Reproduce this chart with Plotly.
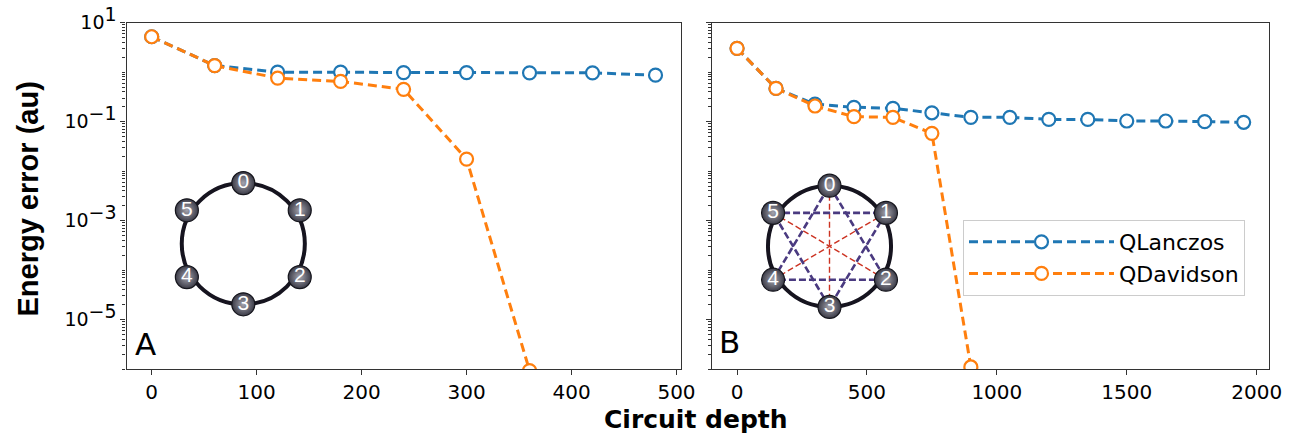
import numpy as np
import plotly.graph_objects as go

# ---------------- data ----------------
depth_A = [0, 60, 120, 180, 240, 300, 360, 420, 480]
qlanczos_A = [5.2, 1.36, 1.0, 1.0, 0.98, 0.98, 0.97, 0.97, 0.87]
depth_A_dav = [0, 60, 120, 180, 240, 300, 360]
qdavidson_A = [5.2, 1.36, 0.76, 0.65, 0.45, 0.0175, 9.3e-7]

depth_B = [0, 150, 300, 450, 600, 750, 900, 1050, 1200, 1350, 1500, 1650, 1800, 1950]
qlanczos_B = [3.03, 0.47, 0.226, 0.195, 0.186, 0.151, 0.122, 0.122, 0.111, 0.111,
              0.103, 0.103, 0.100, 0.097]
depth_B_dav = [0, 150, 300, 450, 600, 750, 900]
qdavidson_B = [3.03, 0.47, 0.207, 0.126, 0.122, 0.058, 1.1e-6]

x_ticks_A = [0, 100, 200, 300, 400, 500]
x_ticks_B = [0, 500, 1000, 1500, 2000]
y_tick_vals = [1e1, 1e-1, 1e-3, 1e-5]
y_tick_exps = ["1", "−1", "−3", "−5"]

series_names = ["QLanczos", "QDavidson"]
panel_labels = ["A", "B"]

# inset graph (6-site ring)
node_labels = ["0", "1", "2", "3", "4", "5"]
node_angles = [90, 31, -31, -90, -149, 149]
node_radius = [1.0, 1.07, 1.07, 1.0, 1.07, 1.07]
edges_strong_B = [(0, 2), (2, 4), (4, 0), (1, 3), (3, 5), (5, 1)]
edges_weak_B = [(0, 3), (1, 4), (2, 5)]

# ---------------- styling ----------------
BLUE = "#1f77b4"
ORANGE = "#ff7f0e"
W, H = 1294, 437
FONT = "DejaVu Sans"
AXC = "#333333"


def px_x(p):
    return p / W


def px_y(p):
    return (H - p) / H


y_tick_text = ["10<sup><span style='font-size:19px'>%s</span></sup>" % e for e in y_tick_exps]

fig = go.Figure()

dash = "9px,5px"


def add_series(x, y, color, name, xa, ya, show):
    fig.add_trace(go.Scatter(
        x=x, y=y, mode="lines+markers", name=name, legendgroup=name,
        showlegend=show, xaxis=xa, yaxis=ya,
        line=dict(color=color, width=3, dash=dash),
        marker=dict(symbol="circle", size=13, color="white",
                    line=dict(color=color, width=2.2)),
    ))


add_series(depth_A, qlanczos_A, BLUE, series_names[0], "x", "y", True)
add_series(depth_A_dav, qdavidson_A, ORANGE, series_names[1], "x", "y", True)
add_series(depth_B, qlanczos_B, BLUE, series_names[0], "x2", "y2", False)
add_series(depth_B_dav, qdavidson_B, ORANGE, series_names[1], "x2", "y2", False)

# node coordinates
nx = [r * np.cos(np.radians(a)) for r, a in zip(node_radius, node_angles)]
ny = [r * np.sin(np.radians(a)) for r, a in zip(node_radius, node_angles)]

# edges for panel B inset
for edges, col, wd, dsh in [(edges_weak_B, "#cc3322", 1.4, "6px,3px"),
                            (edges_strong_B, "#4a3a80", 2.6, "7px,3px")]:
    ex, ey = [], []
    for a, b in edges:
        ex += [nx[a], nx[b], None]
        ey += [ny[a], ny[b], None]
    fig.add_trace(go.Scatter(x=ex, y=ey, mode="lines", xaxis="x4", yaxis="y4",
                             showlegend=False, hoverinfo="skip",
                             line=dict(color=col, width=wd, dash=dsh)))

for xa, ya in [("x3", "y3"), ("x4", "y4")]:
    fig.add_trace(go.Scatter(
        x=nx, y=ny, mode="markers+text", text=node_labels,
        textposition="middle center", xaxis=xa, yaxis=ya, showlegend=False,
        textfont=dict(family="Liberation Sans", size=21, color="white"),
        marker=dict(size=23, color="#3a3a46",
                    gradient=dict(type="radial", color="#a4a4ae"),
                    line=dict(color="#15151c", width=1.2)),
        hoverinfo="skip",
    ))

# ring circles
for xr, yr in [("x3", "y3"), ("x4", "y4")]:
    fig.add_shape(type="circle", xref=xr, yref=yr, x0=-1, x1=1, y0=-1, y1=1,
                  line=dict(color="#16141f", width=4), layer="below")

# minor ticks for log axis
minor_vals = [m * 10.0 ** k for k in range(-7, 2) for m in range(1, 10)
              if 1e-6 <= m * 10.0 ** k <= 10 and not (m == 1 and k in (1, -1, -3, -5))]

ydom = [px_y(369), px_y(22.7)]
yaxis_common = dict(
    type="log", range=[-6, 1], domain=ydom, automargin=False,
    tickmode="array", tickvals=y_tick_vals, ticktext=y_tick_text,
    ticks="outside", ticklen=5, tickwidth=1.2, tickcolor=AXC,
    showline=True, linecolor=AXC, linewidth=1.2, mirror=True,
    showgrid=False, zeroline=False,
    tickfont=dict(family=FONT, size=19, color="black"),
    minor=dict(tickmode="array", tickvals=minor_vals, ticks="outside",
               ticklen=3, tickwidth=1, tickcolor=AXC, showgrid=False),
)
xaxis_common = dict(
    ticks="outside", ticklen=5, tickwidth=1.2, tickcolor=AXC, automargin=False,
    showline=True, linecolor=AXC, linewidth=1.2, mirror=True,
    showgrid=False, zeroline=False,
    tickfont=dict(family=FONT, size=20, color="black"),
)

inset_axis = dict(visible=False, showgrid=False, zeroline=False, fixedrange=True,
                  automargin=False)

fig.update_layout(
    width=W, height=H,
    margin=dict(l=0, r=0, t=0, b=0, autoexpand=False),
    paper_bgcolor="white", plot_bgcolor="rgba(0,0,0,0)",
    font=dict(family=FONT, color="black"),
    xaxis=dict(xaxis_common, domain=[px_x(126.5), px_x(680.7)], range=[-24, 504],
               tickmode="array", tickvals=x_ticks_A, anchor="y"),
    yaxis=dict(yaxis_common, anchor="x"),
    xaxis2=dict(xaxis_common, domain=[px_x(711.7), px_x(1269)], range=[-97.5, 2047.5],
                tickmode="array", tickvals=x_ticks_B, anchor="y2"),
    yaxis2=dict(yaxis_common, anchor="x2", showticklabels=False),
    xaxis3=dict(inset_axis, domain=[px_x(163.3), px_x(323.3)], range=[-1.3, 1.3], anchor="y3"),
    yaxis3=dict(inset_axis, domain=[px_y(323.7), px_y(163.7)], range=[-1.32, 1.32], anchor="x3"),
    xaxis4=dict(inset_axis, domain=[px_x(749.5), px_x(909.5)], range=[-1.3, 1.3], anchor="y4"),
    yaxis4=dict(inset_axis, domain=[px_y(326.3), px_y(166.3)], range=[-1.32, 1.32], anchor="x4"),
    legend=dict(x=px_x(963), y=px_y(220), xanchor="left", yanchor="top",
                bgcolor="white", bordercolor="#cccccc", borderwidth=1,
                font=dict(family=FONT, size=22, color="black"),
                itemwidth=145, tracegroupgap=0, traceorder="grouped"),
    showlegend=True,
)

annotations = [
    dict(text="<b>Circuit depth</b>", x=px_x(695.5), y=px_y(419), xref="paper", yref="paper",
         xanchor="center", yanchor="middle", showarrow=False,
         font=dict(family=FONT, size=25, color="black")),
    dict(text="<b>Energy error (au)</b>", x=px_x(27.5), y=px_y(199), xref="paper", yref="paper",
         xanchor="center", yanchor="middle", showarrow=False, textangle=-90,
         font=dict(family="Liberation Sans", size=29, color="black")),
    dict(text=panel_labels[0], x=px_x(133), y=px_y(364), xref="paper", yref="paper",
         xanchor="left", yanchor="bottom", showarrow=False,
         font=dict(family=FONT, size=31, color="black")),
    dict(text=panel_labels[1], x=px_x(717), y=px_y(362), xref="paper", yref="paper",
         xanchor="left", yanchor="bottom", showarrow=False,
         font=dict(family=FONT, size=31, color="black")),
]
fig.update_layout(annotations=annotations)

fig.write_html("out.html")
